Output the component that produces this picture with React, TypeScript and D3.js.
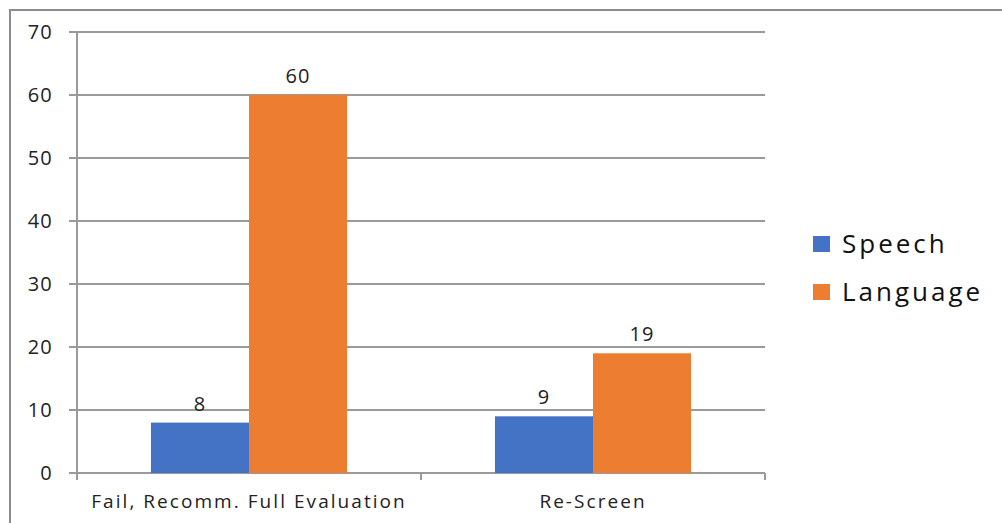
import React from 'react';
import * as d3 from 'd3';

const categories = ['Fail, Recomm. Full Evaluation', 'Re-Screen'];
const seriesNames = ['Speech', 'Language'];
const speech = [8, 9];
const language = [60, 19];
const yTicks = [0, 10, 20, 30, 40, 50, 60, 70];
const colors = ['#4472C4', '#ED7D31'];

const W = 1002;
const H = 523;
const font = '"Open Sans", "DejaVu Sans", sans-serif';

const App: React.FC = () => {
  const left = 77;
  const right = 765;
  const top = 32;
  const bottom = 473;

  const y = d3.scaleLinear().domain([0, 70]).range([bottom, top]);
  const x0 = d3.scaleBand<string>().domain(categories).range([left, right]).padding(0);
  const bw = x0.bandwidth();
  const gap = bw * 0.215;
  const x1 = d3.scaleBand<string>().domain(seriesNames).range([gap, bw - gap]).padding(0);

  const values = [speech, language];

  return (
    <svg width={W} height={H} style={{ position: 'absolute', left: 0, top: 0 }}>
      <rect x={0} y={0} width={W} height={H} fill="#fff" />
      <rect x={10} y={10} width={1000} height={530} fill="none" stroke="#8c8c8c" strokeWidth={2} />

      {/* grid */}
      {yTicks.map((t) => (
        <g key={t}>
          <line x1={left - 8} x2={right} y1={y(t)} y2={y(t)} stroke="#9a9a9a" strokeWidth={2} />
          <text x={53} y={y(t)} dy="0.35em" textAnchor="end" fontFamily={font} fontSize={20} letterSpacing={1.2} fill="#222">
            {t}
          </text>
        </g>
      ))}
      <line x1={left} x2={left} y1={top} y2={bottom + 6} stroke="#9a9a9a" strokeWidth={2} />
      {[left, left + bw, right].map((xv, i) => (
        <line key={i} x1={xv} x2={xv} y1={bottom} y2={bottom + 7} stroke="#9a9a9a" strokeWidth={2} />
      ))}

      {/* bars */}
      {categories.map((c, ci) => (
        <g key={c} transform={`translate(${x0(c)},0)`}>
          {seriesNames.map((s, si) => {
            const v = values[si][ci];
            const bx = x1(s) as number;
            return (
              <g key={s}>
                <rect x={bx} y={y(v)} width={x1.bandwidth()} height={bottom - y(v)} fill={colors[si]} />
                <text
                  x={bx + x1.bandwidth() / 2}
                  y={y(v) - 12}
                  textAnchor="middle"
                  fontFamily={font}
                  fontSize={20}
                  letterSpacing={1.2}
                  fill="#222"
                >
                  {v}
                </text>
              </g>
            );
          })}
          <text x={bw / 2} y={bottom + 35} textAnchor="middle" fontFamily={font} fontSize={19} letterSpacing={2.05} fill="#222">
            {c}
          </text>
        </g>
      ))}

      {/* legend */}
      {seriesNames.map((s, i) => (
        <g key={s} transform={`translate(813,${236 + i * 48})`}>
          <rect x={0} y={0} width={17} height={16} fill={colors[i]} />
          <text x={29} y={8} dy="0.35em" fontFamily={font} fontSize={26} letterSpacing={3} fill="#111">
            {s}
          </text>
        </g>
      ))}
    </svg>
  );
};

export default App;
